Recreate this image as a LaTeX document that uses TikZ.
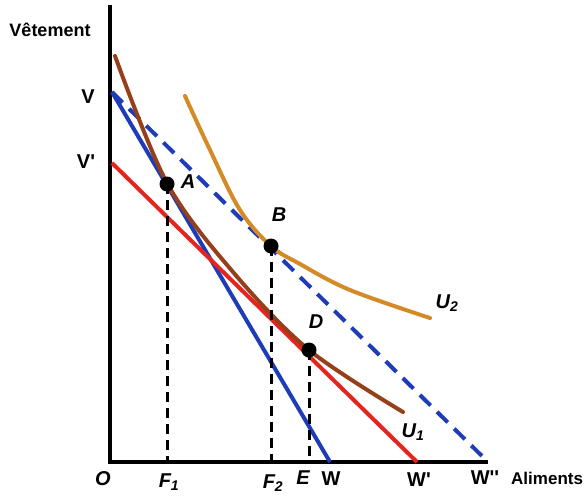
\documentclass[tikz,border=0pt]{standalone}
\usepackage{fontspec}
\setmainfont{Liberation Sans}
\usetikzlibrary{arrows.meta,positioning,calc}
\definecolor{BudgetBlue}{HTML}{1F3CB8}
\definecolor{BudgetRed}{HTML}{E52420}
\definecolor{CurveBrown}{HTML}{94401A}
\definecolor{CurveOrange}{HTML}{D48A26}
\tikzset{
 axis/.style={line width=3.6pt,draw=black},
 budget/.style={line width=4pt},
 newbudget/.style={budget,dash pattern=on 15pt off 9pt},
 curve/.style={line width=4pt,line cap=round},
 guide/.style={line width=3pt,draw=black,dash pattern=on 10pt off 6pt},
 dot/.style={circle,fill=black,inner sep=0pt,minimum size=15pt},
 lbl/.style={font=\fontsize{20}{22}\selectfont\bfseries,inner sep=0pt},
 ilbl/.style={lbl,font=\fontsize{20}{22}\selectfont\bfseries\itshape},
 word/.style={lbl,font=\fontsize{18}{21}\selectfont\bfseries}
}

\begin{document}
\begin{tikzpicture}[x=1pt,y=-1pt]
\useasboundingbox (0,0) rectangle (585,495);
% axes
\coordinate (O) at (110,462);
\coordinate (top) at (110,5);
\coordinate (right) at (488,462);
\draw[axis] (top) -- (O) -- (right);
% budget lines
\coordinate (V) at (112,92);
\coordinate (Vp) at (112,163);
\coordinate (W) at (330,462);
\coordinate (Wp) at (417,462);
\coordinate (Wpp) at (484,458);
\draw[budget,BudgetBlue] (V) -- (W);
\draw[newbudget,BudgetBlue] (V) -- (Wpp);
\draw[budget,BudgetRed] (Vp) -- (Wp);
% indifference curves
\draw[curve,CurveBrown] plot[smooth,tension=0.55] coordinates {(115,56) (167,183) (233,272) (309,350) (403,412)};
\draw[curve,CurveOrange] plot[smooth,tension=0.6] coordinates {(185,96) (210,150) (240,210) (271,246) (300,264) (350,290) (430,318)};
% optima
\node[dot] (A) at (167,184) {};
\node[dot] (B) at (271,246) {};
\node[dot] (D) at (309,350) {};
\coordinate (F1) at (167,462);
\coordinate (F2) at (271,462);
\coordinate (E) at (309,462);
\foreach \p/\q in {A/F1,B/F2,D/E} \draw[guide] (\p.center) -- (\q);
% labels
\node[word] (vet) at (50,30) {Vêtement};
\node[lbl] (lV) at (88,97) {V};
\node[lbl] (lVp) at (86,162) {V\textquotesingle};
\node[ilbl] (lO) at (103,479) {O};
\node[ilbl] (lA) at (188,182) {A};
\node[ilbl] (lB) at (279,215) {B};
\node[ilbl] (lD) at (316,322) {D};
\node[ilbl] (lU2) at (447,303) {U\textsubscript{2}};
\node[ilbl] (lU1) at (413,432) {U\textsubscript{1}};
\node[ilbl] (lF1) at (169,482) {F\textsubscript{1}};
\node[ilbl] (lF2) at (273,483) {F\textsubscript{2}};
\node[ilbl] (lE) at (303,478) {E};
\node[lbl] (lW) at (331,479) {W};
\node[lbl] (lWp) at (419,480) {W\textquotesingle};
\node[lbl] (lWpp) at (485,478) {W\textquotesingle\textquotesingle};
\node[word,font=\fontsize{17}{20}\selectfont\bfseries,anchor=west] (alim) at (511,478) {Aliments};
\end{tikzpicture}
\end{document}
